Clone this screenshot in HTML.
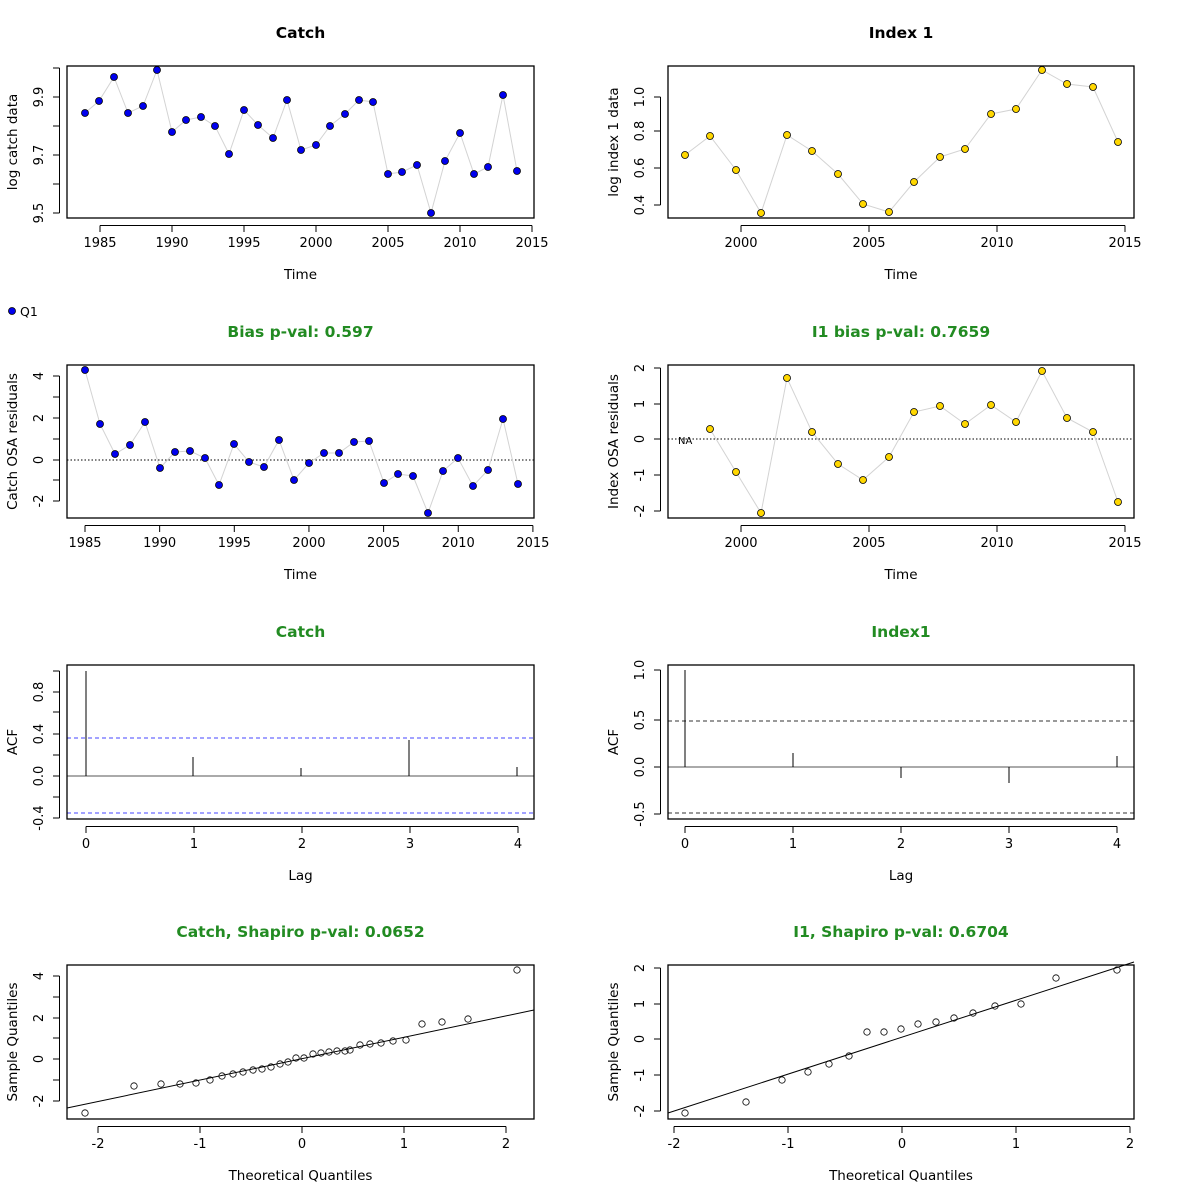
<!DOCTYPE html>
<html><head><meta charset="utf-8"><style>body{margin:0;background:#fff}svg{display:block}text{font-family:"DejaVu Sans","Liberation Sans",sans-serif;fill:#000}</style></head>
<body>
<svg id="s" width="1200" height="1200" xmlns="http://www.w3.org/2000/svg"></svg>
<script>
var s='';
function t(x,y,str,o){o=o||{};s+='<text x="'+x+'" y="'+y+'" font-size="'+(o.fs||13)+'" text-anchor="'+(o.a||'middle')+'"'+(o.rot?' transform="rotate(-90 '+x+' '+y+')"':'')+(o.b?' font-weight="bold"':'')+(o.c?' style="fill:'+o.c+'"':'')+'>'+str+'</text>';}
function l(x1,y1,x2,y2,st){s+='<line x1="'+x1+'" y1="'+y1+'" x2="'+x2+'" y2="'+y2+'" style="'+(st||'stroke:#000;stroke-width:1')+'"/>';}
function panel(p){
 var x0=p.b[0],y0=p.b[1],x1=p.b[2],y1=p.b[3];
 var xs=p.xt.map(a=>a[0]);l(Math.min.apply(0,xs),y1+7.5,Math.max.apply(0,xs),y1+7.5);
 p.xt.forEach(a=>{l(a[0],y1+7.5,a[0],y1+14);t(a[0],y1+29,a[1]);});
 var ys=p.yt.map(a=>a[0]).concat(p.ym||[]);l(x0-7.5,Math.min.apply(0,ys),x0-7.5,Math.max.apply(0,ys));
 p.yt.forEach(a=>{l(x0-14,a[0],x0-7.5,a[0]);t(x0-24,a[0],a[1],{rot:1});});
 (p.ym||[]).forEach(y=>l(x0-14,y,x0-7.5,y));
 t((x0+x1)/2,y1+61,p.xl,{fs:13.5});
 t(x0-50,(y0+y1)/2,p.yl,{rot:1,fs:13.5});
 t((x0+x1)/2,y0-28,p.title,{fs:15.5,b:1,c:p.tc||'#000'});
 if(p.extra)p.extra(x0,y0,x1,y1);
 if(p.pts){
  if(p.line){s+='<polyline fill="none" stroke="#d3d3d3" stroke-width="1" points="'+p.pts.map(a=>a.join(',')).join(' ')+'"/>';}
  p.pts.forEach(a=>{s+='<circle cx="'+a[0]+'" cy="'+a[1]+'" r="'+(p.r||3.5)+'" fill="'+(p.fill||'none')+'" stroke="#000" stroke-width="0.8"/>';});
 }
 s+='<rect x="'+x0+'" y="'+y0+'" width="'+(x1-x0)+'" height="'+(y1-y0)+'" fill="none" stroke="#000" stroke-width="1.3"/>';
}
var yrC=[],yrI=[],yrR=[];
for(var y=1985;y<=2015;y+=5){yrC.push([100+(y-1985)*14.4,y]);yrR.push([85+(y-1985)*14.93,y]);}
for(var y=2000;y<=2015;y+=5)yrI.push([741+(y-2000)*25.6,y]);
panel({b:[67,66,534,218],xt:yrC,yt:[[213,'9.5'],[155,'9.7'],[97,'9.9']],ym:[184,126,68],xl:'Time',yl:'log catch data',title:'Catch',line:1,fill:'#0000ee',
pts:[[85,113],[99,101],[114,77],[128,113],[143,106],[157,70],[172,132],[186,120],[201,117],[215,126],[229,154],[244,110],[258,125],[273,138],[287,100],[301,150],[316,145],[330,126],[345,114],[359,100],[373,102],[388,174],[402,172],[417,165],[431,213],[445,161],[460,133],[474,174],[488,167],[503,95],[517,171]]});
panel({b:[668,66,1134,218],xt:yrI,yt:[[205,'0.4'],[168,'0.6'],[131,'0.8'],[97,'1.0']],xl:'Time',yl:'log index 1 data',title:'Index 1',line:1,fill:'#ffd700',
pts:[[685,155],[710,136],[736,170],[761,213],[787,135],[812,151],[838,174],[863,204],[889,212],[914,182],[940,157],[965,149],[991,114],[1016,109],[1042,70],[1067,84],[1093,87],[1118,142]]});
s+='<circle cx="12" cy="311" r="3.5" fill="#0000ee" stroke="#000" stroke-width="0.8"/>';t(20,316,'Q1',{a:'start',fs:12.5});
panel({b:[67,365,534,518],xt:yrR,yt:[[376,'4'],[418,'2'],[460,'0'],[501,'-2']],ym:[397,439,480],xl:'Time',yl:'Catch OSA residuals',title:'Bias p-val: 0.597',tc:'#228b22',line:1,fill:'#0000ee',
extra:function(a,b,c,d){l(a,460,c,460,'stroke:#000;stroke-dasharray:1.5,2');},
pts:[[85,370],[100,424],[115,454],[130,445],[145,422],[160,468],[175,452],[190,451],[205,458],[219,485],[234,444],[249,462],[264,467],[279,440],[294,480],[309,463],[324,453],[339,453],[354,442],[369,441],[384,483],[398,474],[413,476],[428,513],[443,471],[458,458],[473,486],[488,470],[503,419],[518,484]]});
panel({b:[668,365,1134,518],xt:yrI,yt:[[368,'2'],[404,'1'],[439,'0'],[475,'-1'],[511,'-2']],xl:'Time',yl:'Index OSA residuals',title:'I1 bias p-val: 0.7659',tc:'#228b22',line:1,fill:'#ffd700',
extra:function(a,b,c,d){l(a,439,c,439,'stroke:#000;stroke-dasharray:1.5,2');t(678,444,'NA',{a:'start',fs:10});},
pts:[[710,429],[736,472],[761,513],[787,378],[812,432],[838,464],[863,480],[889,457],[914,412],[940,406],[965,424],[991,405],[1016,422],[1042,371],[1067,418],[1093,432],[1118,502]]});
var lagC=[0,1,2,3,4].map(i=>[86+i*108,i]),lagI=[0,1,2,3,4].map(i=>[685+i*108,i]);
panel({b:[67,665,534,819],xt:lagC,yt:[[692,'0.8'],[734,'0.4'],[776,'0.0'],[818,'-0.4']],ym:[671,712,755,797],xl:'Lag',yl:'ACF',title:'Catch',tc:'#228b22',
extra:function(a,b,c,d){l(a,776,c,776,'stroke:#555');l(a,738,c,738,'stroke:#4444ff;stroke-dasharray:4,3');l(a,813,c,813,'stroke:#4444ff;stroke-dasharray:4,3');
[[86,671],[193,757],[301,768],[409,740],[517,767]].forEach(q=>l(q[0],776,q[0],q[1]));}});
panel({b:[668,665,1134,819],xt:lagI,yt:[[670,'1.0'],[720,'0.5'],[767,'0.0'],[814,'-0.5']],xl:'Lag',yl:'ACF',title:'Index1',tc:'#228b22',
extra:function(a,b,c,d){l(a,767,c,767,'stroke:#555');l(a,721,c,721,'stroke:#333;stroke-dasharray:4,3');l(a,813,c,813,'stroke:#333;stroke-dasharray:4,3');
[[685,670],[793,753],[901,778],[1009,783],[1117,756]].forEach(q=>l(q[0],767,q[0],q[1]));}});
panel({b:[67,965,534,1119],xt:[[98,'-2'],[200,'-1'],[302,'0'],[404,'1'],[506,'2']],yt:[[976,'4'],[1018,'2'],[1059,'0'],[1101,'-2']],ym:[997,1038,1080],xl:'Theoretical Quantiles',yl:'Sample Quantiles',title:'Catch, Shapiro p-val: 0.0652',tc:'#228b22',r:3.2,
extra:function(a,b,c,d){l(a,1108,c,1010);},
pts:[[85,1113],[134,1086],[161,1084],[180,1084],[196,1083],[210,1080],[222,1076],[233,1074],[243,1072],[253,1070],[262,1069],[271,1067],[280,1064],[288,1062],[296,1058],[304,1058],[313,1054],[321,1053],[329,1052],[337,1051],[345,1051],[350,1050],[360,1045],[370,1044],[381,1043],[393,1041],[406,1040],[422,1024],[442,1022],[468,1019],[517,970]]});
panel({b:[668,965,1134,1119],xt:[[674,'-2'],[788,'-1'],[902,'0'],[1016,'1'],[1130,'2']],yt:[[968,'2'],[1004,'1'],[1039,'0'],[1075,'-1'],[1111,'-2']],xl:'Theoretical Quantiles',yl:'Sample Quantiles',title:'I1, Shapiro p-val: 0.6704',tc:'#228b22',r:3.2,
extra:function(a,b,c,d){l(a,1113,c,962);},
pts:[[685,1113],[746,1102],[782,1080],[808,1072],[829,1064],[849,1056],[867,1032],[884,1032],[901,1029],[918,1024],[936,1022],[954,1018],[973,1013],[995,1006],[1021,1004],[1056,978],[1117,970]]});
document.getElementById('s').innerHTML=s;
</script>
</body></html>
